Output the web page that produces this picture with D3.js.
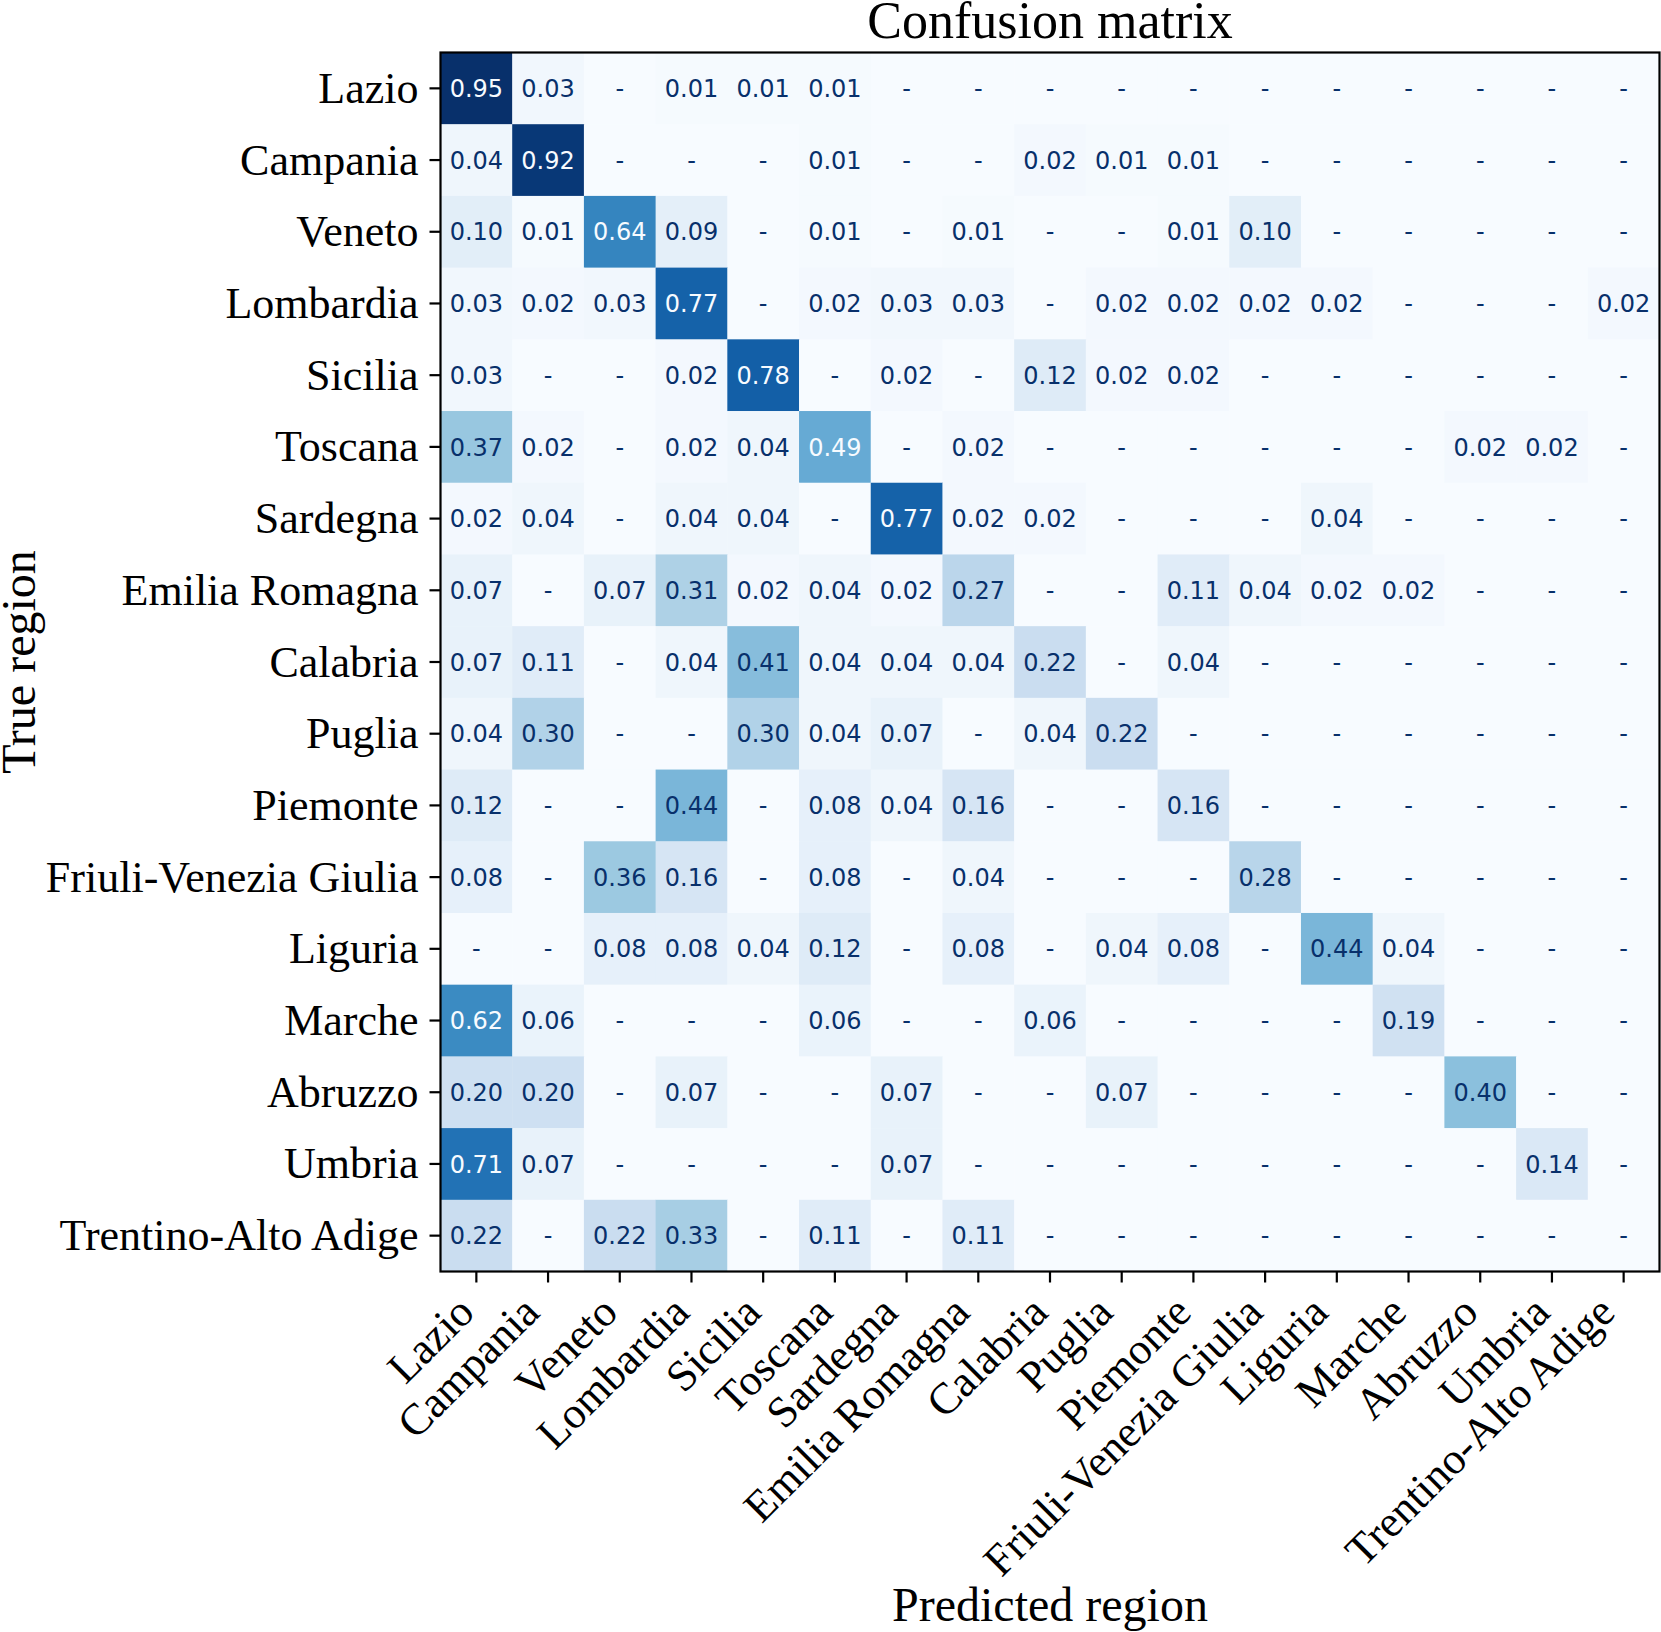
<!DOCTYPE html>
<html><head><meta charset="utf-8">
<script src="https://cdn.jsdelivr.net/npm/d3@7"></script>
<style>body{margin:0;background:#fff}</style>
</head><body>
<svg id="c" width="1661" height="1632"></svg>
<script>
const regions = ["Lazio","Campania","Veneto","Lombardia","Sicilia","Toscana","Sardegna","Emilia Romagna","Calabria","Puglia","Piemonte","Friuli-Venezia Giulia","Liguria","Marche","Abruzzo","Umbria","Trentino-Alto Adige"];

// rows = true region, columns = predicted region
const rates = [
  [0.95,0.03,0,0.01,0.01,0.01,0,0,0,0,0,0,0,0,0,0,0],
  [0.04,0.92,0,0,0,0.01,0,0,0.02,0.01,0.01,0,0,0,0,0,0],
  [0.10,0.01,0.64,0.09,0,0.01,0,0.01,0,0,0.01,0.10,0,0,0,0,0],
  [0.03,0.02,0.03,0.77,0,0.02,0.03,0.03,0,0.02,0.02,0.02,0.02,0,0,0,0.02],
  [0.03,0,0,0.02,0.78,0,0.02,0,0.12,0.02,0.02,0,0,0,0,0,0],
  [0.37,0.02,0,0.02,0.04,0.49,0,0.02,0,0,0,0,0,0,0.02,0.02,0],
  [0.02,0.04,0,0.04,0.04,0,0.77,0.02,0.02,0,0,0,0.04,0,0,0,0],
  [0.07,0,0.07,0.31,0.02,0.04,0.02,0.27,0,0,0.11,0.04,0.02,0.02,0,0,0],
  [0.07,0.11,0,0.04,0.41,0.04,0.04,0.04,0.22,0,0.04,0,0,0,0,0,0],
  [0.04,0.30,0,0,0.30,0.04,0.07,0,0.04,0.22,0,0,0,0,0,0,0],
  [0.12,0,0,0.44,0,0.08,0.04,0.16,0,0,0.16,0,0,0,0,0,0],
  [0.08,0,0.36,0.16,0,0.08,0,0.04,0,0,0,0.28,0,0,0,0,0],
  [0,0,0.08,0.08,0.04,0.12,0,0.08,0,0.04,0.08,0,0.44,0.04,0,0,0],
  [0.62,0.06,0,0,0,0.06,0,0,0.06,0,0,0,0,0.19,0,0,0],
  [0.20,0.20,0,0.07,0,0,0.07,0,0,0.07,0,0,0,0,0.40,0,0],
  [0.71,0.07,0,0,0,0,0.07,0,0,0,0,0,0,0,0,0.14,0],
  [0.22,0,0.22,0.33,0,0.11,0,0.11,0,0,0,0,0,0,0,0,0]
];

const bluesStops = ["#f7fbff","#deebf7","#c6dbef","#9ecae1","#6baed6","#4292c6","#2171b5","#08519c","#08306b"];
const titleText = "Confusion matrix";
const xLabelText = "Predicted region";
const yLabelText = "True region";

const svg = d3.select("#c");
const X0 = 440.5, Y0 = 52.5, SIZE = 1219;
const serif = "'Liberation Serif', 'Times New Roman', serif";
const tickFs = 44, axisFs = 48, titleFs = 52;

const x = d3.scaleBand().domain(regions).range([X0, X0 + SIZE]);
const y = d3.scaleBand().domain(regions).range([Y0, Y0 + SIZE]);

const all = rates.flat();
const vmin = d3.min(all), vmax = d3.max(all);
const color = d3.scaleLinear()
  .domain(bluesStops.map((_, i) => vmin + i * (vmax - vmin) / (bluesStops.length - 1)))
  .range(bluesStops)
  .interpolate(d3.interpolateRgb);
const thresh = (vmax + vmin) / 2;

const cells = [];
rates.forEach((row, i) => row.forEach((v, j) => cells.push({t: regions[i], p: regions[j], v})));

const g = svg.append("g");
g.selectAll("rect.cell").data(cells).join("rect")
  .attr("class", "cell")
  .attr("x", d => x(d.p)).attr("y", d => y(d.t))
  .attr("width", x.bandwidth() + 0.5).attr("height", y.bandwidth() + 0.5)
  .attr("fill", d => color(d.v));

g.selectAll("text.val").data(cells).join("text")
  .attr("class", "val")
  .attr("x", d => x(d.p) + x.bandwidth() / 2)
  .attr("y", d => y(d.t) + y.bandwidth() / 2)
  .attr("dy", "0.36em")
  .attr("text-anchor", "middle")
  .attr("font-family", "'DejaVu Sans', sans-serif")
  .attr("font-size", 24)
  .attr("fill", d => d.v < thresh ? bluesStops[8] : bluesStops[0])
  .text(d => d.v === 0 ? "-" : d.v.toFixed(2));

// frame
svg.append("rect")
  .attr("x", X0).attr("y", Y0).attr("width", SIZE).attr("height", SIZE)
  .attr("fill", "none").attr("stroke", "#000").attr("stroke-width", 2.2);

// axes
const tickLen = 11, pad = 11;
const xAxis = svg.append("g").attr("transform", `translate(0,${Y0 + SIZE})`)
  .call(d3.axisBottom(x).tickSize(tickLen).tickPadding(pad));
const yAxis = svg.append("g").attr("transform", `translate(${X0},0)`)
  .call(d3.axisLeft(y).tickSize(tickLen).tickPadding(pad));
[xAxis, yAxis].forEach(a => {
  a.select(".domain").remove();
  a.selectAll(".tick line").attr("stroke", "#000").attr("stroke-width", 2.2);
  a.selectAll(".tick text").attr("font-family", serif).attr("fill", "#000");
});
yAxis.selectAll(".tick text")
  .attr("font-size", tickFs)
  .attr("x", -(tickLen + pad))
  .attr("dy", null)
  .attr("y", 0.33 * tickFs)
  .attr("text-anchor", "end");

const asc = 0.68 * tickFs, desc = 0.21 * tickFs, r2 = Math.SQRT2;
xAxis.selectAll(".tick text")
  .attr("font-size", tickFs)
  .attr("text-anchor", "end")
  .attr("dy", null)
  .attr("y", null)
  .attr("transform", d => {
    const hasDesc = /[gpqyj]/.test(d);
    const bx = -(hasDesc ? desc / r2 : 0);
    const by = tickLen + pad + asc / r2;
    return `translate(${bx},${by}) rotate(-45)`;
  });

// titles
svg.append("text")
  .attr("x", X0 + SIZE / 2).attr("y", 38)
  .attr("text-anchor", "middle")
  .attr("font-family", serif).attr("font-size", titleFs)
  .text(titleText);

svg.append("text")
  .attr("x", X0 + SIZE / 2).attr("y", 1621)
  .attr("text-anchor", "middle")
  .attr("font-family", serif).attr("font-size", axisFs)
  .text(xLabelText);

svg.append("text")
  .attr("transform", `translate(35,${Y0 + SIZE / 2}) rotate(-90)`)
  .attr("text-anchor", "middle")
  .attr("font-family", serif).attr("font-size", axisFs)
  .text(yLabelText);
</script>
</body></html>
